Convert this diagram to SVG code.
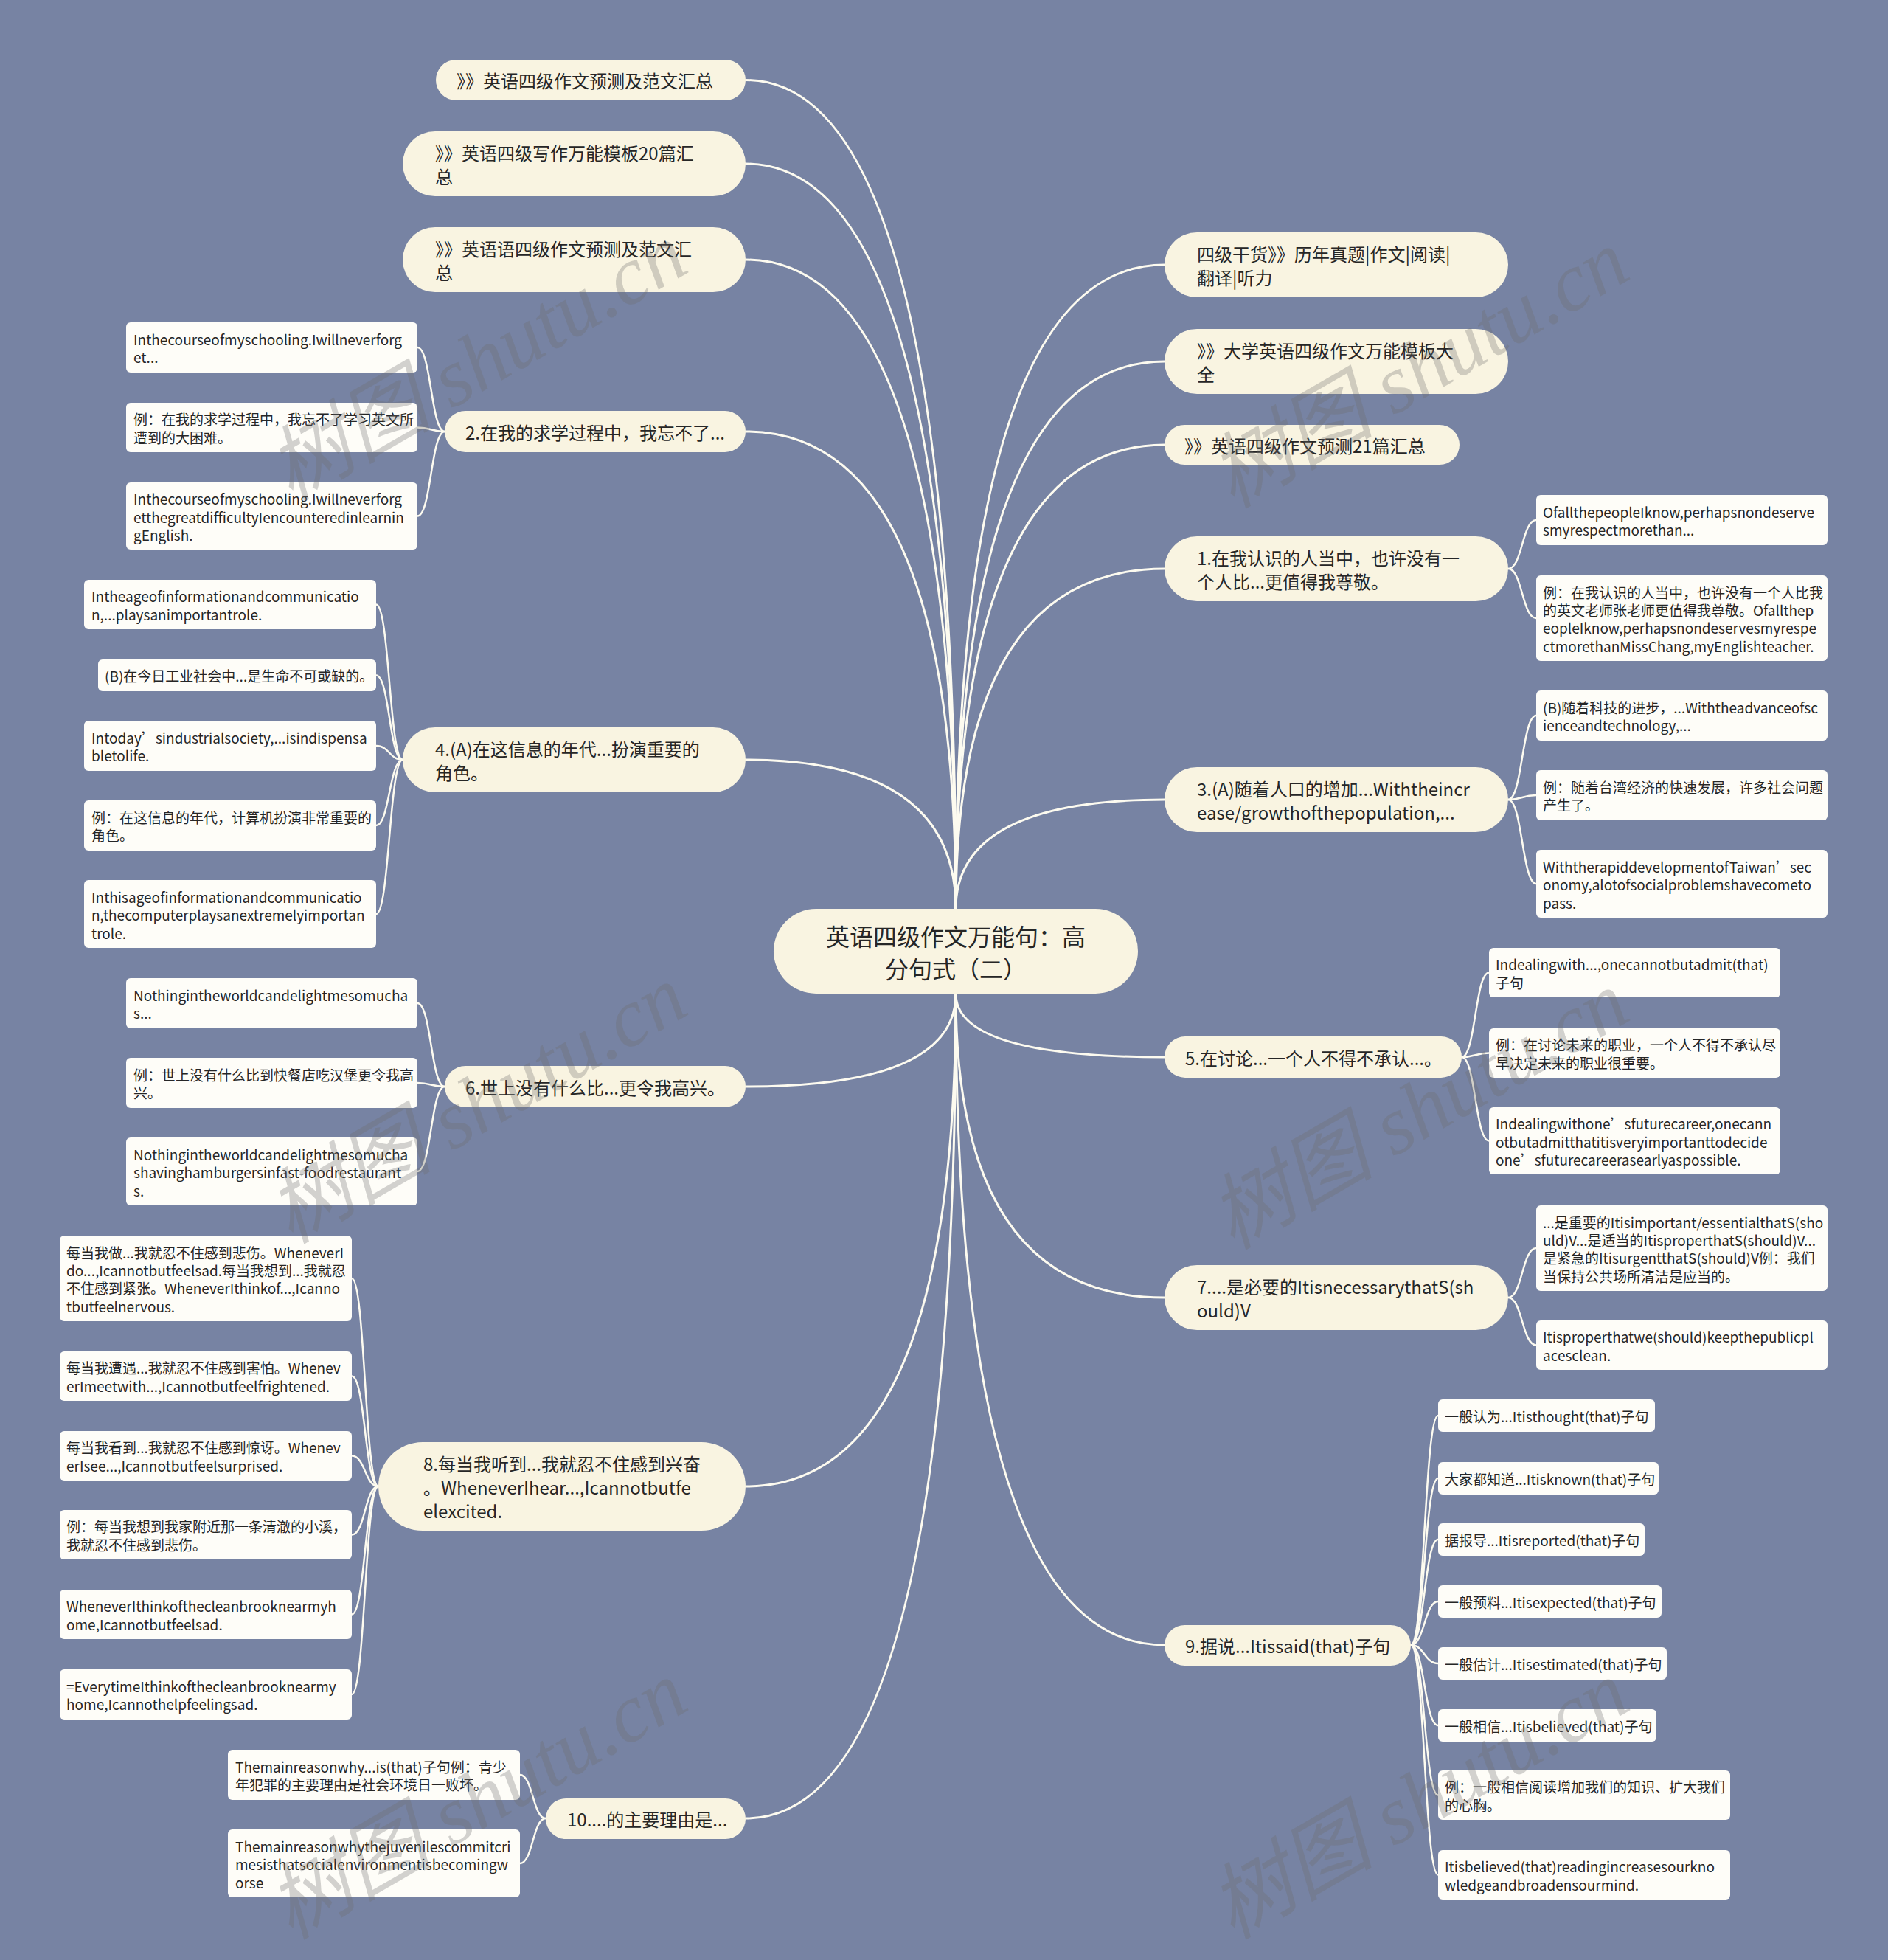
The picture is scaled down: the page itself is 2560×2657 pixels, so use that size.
<svg xmlns="http://www.w3.org/2000/svg" width="2560" height="2657" viewBox="0 0 2560 2657">
<style>
text{font-family:"Noto Sans CJK SC","Microsoft YaHei",sans-serif;fill:#262626;dominant-baseline:central}
.pill{fill:#F9F4E1}
.leaf{fill:#FEFDF8}
.t0{font-size:32px}
.t1{font-size:24px}
.t2{font-size:19px}
.lk{fill:none;stroke:#FDFBF0;stroke-width:3;stroke-linecap:round}
.lk2{fill:none;stroke:#FDFBF0;stroke-width:2.5;stroke-linecap:round}
.wm{font-family:"Liberation Serif","Noto Sans CJK SC",serif;font-style:italic;font-size:112px;fill:#6e6e6e;fill-opacity:0.3;text-anchor:middle}
</style>
<rect x="0" y="0" width="2560" height="2657" fill="#7783A3"/>
<g id="connectors">
<path class="lk" d="M1296,1232 Q1296,108.5 1011,108.5"/>
<path class="lk" d="M1296,1232 Q1296,222 1011,222"/>
<path class="lk" d="M1296,1232 Q1296,352 1011,352"/>
<path class="lk" d="M1296,1232 Q1296,585 1011,585"/>
<path class="lk" d="M1296,1232 Q1296,1030 1011,1030"/>
<path class="lk" d="M1296,1232 Q1296,359 1579,359"/>
<path class="lk" d="M1296,1232 Q1296,490 1579,490"/>
<path class="lk" d="M1296,1232 Q1296,603 1579,603"/>
<path class="lk" d="M1296,1232 Q1296,771 1579,771"/>
<path class="lk" d="M1296,1232 Q1296,1084 1579,1084"/>
<path class="lk" d="M1296,1347 Q1296,1473 1011,1473"/>
<path class="lk" d="M1296,1347 Q1296,2015 1011,2015"/>
<path class="lk" d="M1296,1347 Q1296,2465 1011,2465"/>
<path class="lk" d="M1296,1347 Q1296,1433 1579,1433"/>
<path class="lk" d="M1296,1347 Q1296,1759 1579,1759"/>
<path class="lk" d="M1296,1347 Q1296,2230 1579,2230"/>
<path class="lk2" d="M603,585 C584.5,585 584.5,471 566,471"/>
<path class="lk2" d="M603,585 C584.5,585 584.5,579.5 566,579.5"/>
<path class="lk2" d="M603,585 C584.5,585 584.5,699.5 566,699.5"/>
<path class="lk2" d="M546,1030 C528,1030 528,819.5 510,819.5"/>
<path class="lk2" d="M546,1030 C528,1030 528,915.5 510,915.5"/>
<path class="lk2" d="M546,1030 C528,1030 528,1011 510,1011"/>
<path class="lk2" d="M546,1030 C528,1030 528,1119 510,1119"/>
<path class="lk2" d="M546,1030 C528,1030 528,1239 510,1239"/>
<path class="lk2" d="M603,1473 C584.5,1473 584.5,1360 566,1360"/>
<path class="lk2" d="M603,1473 C584.5,1473 584.5,1468 566,1468"/>
<path class="lk2" d="M603,1473 C584.5,1473 584.5,1588 566,1588"/>
<path class="lk2" d="M513,2015 C495,2015 495,1733 477,1733"/>
<path class="lk2" d="M513,2015 C495,2015 495,1865.5 477,1865.5"/>
<path class="lk2" d="M513,2015 C495,2015 495,1973.5 477,1973.5"/>
<path class="lk2" d="M513,2015 C495,2015 495,2080.5 477,2080.5"/>
<path class="lk2" d="M513,2015 C495,2015 495,2188.5 477,2188.5"/>
<path class="lk2" d="M513,2015 C495,2015 495,2297 477,2297"/>
<path class="lk2" d="M740,2465 C722.5,2465 722.5,2406 705,2406"/>
<path class="lk2" d="M740,2465 C722.5,2465 722.5,2526 705,2526"/>
<path class="lk2" d="M2045,771 C2064,771 2064,705 2083,705"/>
<path class="lk2" d="M2045,771 C2064,771 2064,838 2083,838"/>
<path class="lk2" d="M2045,1084 C2064,1084 2064,970 2083,970"/>
<path class="lk2" d="M2045,1084 C2064,1084 2064,1078 2083,1078"/>
<path class="lk2" d="M2045,1084 C2064,1084 2064,1198 2083,1198"/>
<path class="lk2" d="M1982,1433 C2000.5,1433 2000.5,1318.5 2019,1318.5"/>
<path class="lk2" d="M1982,1433 C2000.5,1433 2000.5,1427.5 2019,1427.5"/>
<path class="lk2" d="M1982,1433 C2000.5,1433 2000.5,1546.5 2019,1546.5"/>
<path class="lk2" d="M2045,1759 C2064,1759 2064,1692 2083,1692"/>
<path class="lk2" d="M2045,1759 C2064,1759 2064,1823.5 2083,1823.5"/>
<path class="lk2" d="M1913,2230 C1931.5,2230 1931.5,1919 1950,1919"/>
<path class="lk2" d="M1913,2230 C1931.5,2230 1931.5,2004 1950,2004"/>
<path class="lk2" d="M1913,2230 C1931.5,2230 1931.5,2087 1950,2087"/>
<path class="lk2" d="M1913,2230 C1931.5,2230 1931.5,2171 1950,2171"/>
<path class="lk2" d="M1913,2230 C1931.5,2230 1931.5,2255 1950,2255"/>
<path class="lk2" d="M1913,2230 C1931.5,2230 1931.5,2339 1950,2339"/>
<path class="lk2" d="M1913,2230 C1931.5,2230 1931.5,2433.5 1950,2433.5"/>
<path class="lk2" d="M1913,2230 C1931.5,2230 1931.5,2541.5 1950,2541.5"/>
</g>
<g id="root"><rect class="pill" x="1049" y="1232" width="494" height="115" rx="57.5"/><text class="t0" text-anchor="middle"><tspan x="1296" y="1268">英语四级作文万能句：高</tspan><tspan x="1296" y="1312">分句式（二）</tspan></text></g>
<g id="a1"><rect class="pill" x="591" y="81" width="420" height="55" rx="27.5"/><text class="t1" x="619" y="108.5">》》英语四级作文预测及范文汇总</text></g>
<g id="a2"><rect class="pill" x="546" y="178" width="465" height="88" rx="44"/><text class="t1"><tspan x="590" y="206">》》英语四级写作万能模板20篇汇</tspan><tspan x="590" y="238">总</tspan></text></g>
<g id="a3"><rect class="pill" x="546" y="308" width="465" height="88" rx="44"/><text class="t1"><tspan x="590" y="336">》》英语语四级作文预测及范文汇</tspan><tspan x="590" y="368">总</tspan></text></g>
<g id="a4"><rect class="pill" x="603" y="557" width="408" height="56" rx="28"/><text class="t1" x="631" y="585">2.在我的求学过程中，我忘不了...</text></g>
<g id="a5"><rect class="pill" x="546" y="986" width="465" height="88" rx="44"/><text class="t1"><tspan x="590" y="1014">4.(A)在这信息的年代...扮演重要的</tspan><tspan x="590" y="1046">角色。</tspan></text></g>
<g id="a6"><rect class="pill" x="603" y="1445" width="408" height="56" rx="28"/><text class="t1" x="631" y="1473">6.世上没有什么比...更令我高兴。</text></g>
<g id="a7"><rect class="pill" x="513" y="1955" width="498" height="120" rx="60"/><text class="t1"><tspan x="574" y="1983">8.每当我听到...我就忍不住感到兴奋</tspan><tspan x="574" y="2015">。WheneverIhear...,Icannotbutfe</tspan><tspan x="574" y="2047">elexcited.</tspan></text></g>
<g id="a8"><rect class="pill" x="740" y="2438" width="271" height="55" rx="27.5"/><text class="t1" x="769" y="2465.5">10....的主要理由是...</text></g>
<g id="b1"><rect class="pill" x="1579" y="315" width="466" height="88" rx="44"/><text class="t1"><tspan x="1623" y="343">四级干货》》历年真题|作文|阅读|</tspan><tspan x="1623" y="375">翻译|听力</tspan></text></g>
<g id="b2"><rect class="pill" x="1579" y="446" width="466" height="88" rx="44"/><text class="t1"><tspan x="1623" y="474">》》大学英语四级作文万能模板大</tspan><tspan x="1623" y="506">全</tspan></text></g>
<g id="b3"><rect class="pill" x="1579" y="576" width="400" height="54" rx="27"/><text class="t1" x="1606" y="603">》》英语四级作文预测21篇汇总</text></g>
<g id="b4"><rect class="pill" x="1579" y="727" width="466" height="88" rx="44"/><text class="t1"><tspan x="1623" y="755">1.在我认识的人当中，也许没有一</tspan><tspan x="1623" y="787">个人比...更值得我尊敬。</tspan></text></g>
<g id="b5"><rect class="pill" x="1579" y="1040" width="466" height="88" rx="44"/><text class="t1"><tspan x="1623" y="1068">3.(A)随着人口的增加...Withtheincr</tspan><tspan x="1623" y="1100">ease/growthofthepopulation,...</tspan></text></g>
<g id="b6"><rect class="pill" x="1579" y="1405" width="403" height="56" rx="28"/><text class="t1" x="1607" y="1433">5.在讨论...一个人不得不承认...。</text></g>
<g id="b7"><rect class="pill" x="1579" y="1715" width="466" height="88" rx="44"/><text class="t1"><tspan x="1623" y="1743">7....是必要的ItisnecessarythatS(sh</tspan><tspan x="1623" y="1775">ould)V</tspan></text></g>
<g id="b8"><rect class="pill" x="1579" y="2203" width="334" height="55" rx="27.5"/><text class="t1" x="1607" y="2230.5">9.据说...Itissaid(that)子句</text></g>
<g id="l4a"><rect class="leaf" x="171" y="437" width="395" height="68" rx="6"/><text class="t2"><tspan x="181" y="459">Inthecourseofmyschooling.Iwillneverforg</tspan><tspan x="181" y="483">et...</tspan></text></g>
<g id="l4b"><rect class="leaf" x="171" y="546" width="395" height="67" rx="6"/><text class="t2"><tspan x="181" y="567">例：在我的求学过程中，我忘不了学习英文所</tspan><tspan x="181" y="592">遭到的大困难。</tspan></text></g>
<g id="l4c"><rect class="leaf" x="171" y="654" width="395" height="91" rx="6"/><text class="t2"><tspan x="181" y="675">Inthecourseofmyschooling.Iwillneverforg</tspan><tspan x="181" y="699.5">etthegreatdifficultyIencounteredinlearnin</tspan><tspan x="181" y="724">gEnglish.</tspan></text></g>
<g id="l5a"><rect class="leaf" x="114" y="786" width="396" height="67" rx="6"/><text class="t2"><tspan x="124" y="807">Intheageofinformationandcommunicatio</tspan><tspan x="124" y="832">n,...playsanimportantrole.</tspan></text></g>
<g id="l5b"><rect class="leaf" x="133" y="894" width="377" height="43" rx="6"/><text class="t2" x="142" y="915.5">(B)在今日工业社会中...是生命不可或缺的。</text></g>
<g id="l5c"><rect class="leaf" x="114" y="977" width="396" height="68" rx="6"/><text class="t2"><tspan x="124" y="999">Intoday’sindustrialsociety,...isindispensa</tspan><tspan x="124" y="1023">bletolife.</tspan></text></g>
<g id="l5d"><rect class="leaf" x="114" y="1085" width="396" height="68" rx="6"/><text class="t2"><tspan x="124" y="1107">例：在这信息的年代，计算机扮演非常重要的</tspan><tspan x="124" y="1131">角色。</tspan></text></g>
<g id="l5e"><rect class="leaf" x="114" y="1193" width="396" height="92" rx="6"/><text class="t2"><tspan x="124" y="1214.5">Inthisageofinformationandcommunicatio</tspan><tspan x="124" y="1239">n,thecomputerplaysanextremelyimportan</tspan><tspan x="124" y="1263.5">trole.</tspan></text></g>
<g id="l6a"><rect class="leaf" x="171" y="1326" width="395" height="68" rx="6"/><text class="t2"><tspan x="181" y="1348">Nothingintheworldcandelightmesomucha</tspan><tspan x="181" y="1372">s...</tspan></text></g>
<g id="l6b"><rect class="leaf" x="171" y="1434" width="395" height="68" rx="6"/><text class="t2"><tspan x="181" y="1456">例：世上没有什么比到快餐店吃汉堡更令我高</tspan><tspan x="181" y="1480">兴。</tspan></text></g>
<g id="l6c"><rect class="leaf" x="171" y="1542" width="395" height="92" rx="6"/><text class="t2"><tspan x="181" y="1563.5">Nothingintheworldcandelightmesomucha</tspan><tspan x="181" y="1588">shavinghamburgersinfast-foodrestaurant</tspan><tspan x="181" y="1612.5">s.</tspan></text></g>
<g id="l7a"><rect class="leaf" x="81" y="1675" width="396" height="116" rx="6"/><text class="t2"><tspan x="90" y="1696.5">每当我做...我就忍不住感到悲伤。WheneverI</tspan><tspan x="90" y="1721">do...,Icannotbutfeelsad.每当我想到...我就忍</tspan><tspan x="90" y="1745">不住感到紧张。WheneverIthinkof...,Icanno</tspan><tspan x="90" y="1769.5">tbutfeelnervous.</tspan></text></g>
<g id="l7b"><rect class="leaf" x="81" y="1832" width="396" height="67" rx="6"/><text class="t2"><tspan x="90" y="1853">每当我遭遇...我就忍不住感到害怕。Whenev</tspan><tspan x="90" y="1878">erImeetwith...,Icannotbutfeelfrightened.</tspan></text></g>
<g id="l7c"><rect class="leaf" x="81" y="1940" width="396" height="67" rx="6"/><text class="t2"><tspan x="90" y="1961">每当我看到...我就忍不住感到惊讶。Whenev</tspan><tspan x="90" y="1986">erIsee...,Icannotbutfeelsurprised.</tspan></text></g>
<g id="l7d"><rect class="leaf" x="81" y="2047" width="396" height="67" rx="6"/><text class="t2"><tspan x="90" y="2068">例：每当我想到我家附近那一条清澈的小溪，</tspan><tspan x="90" y="2093">我就忍不住感到悲伤。</tspan></text></g>
<g id="l7e"><rect class="leaf" x="81" y="2155" width="396" height="67" rx="6"/><text class="t2"><tspan x="90" y="2176">WheneverIthinkofthecleanbrooknearmyh</tspan><tspan x="90" y="2201">ome,Icannotbutfeelsad.</tspan></text></g>
<g id="l7f"><rect class="leaf" x="81" y="2263" width="396" height="68" rx="6"/><text class="t2"><tspan x="90" y="2285">=EverytimeIthinkofthecleanbrooknearmy</tspan><tspan x="90" y="2309">home,Icannothelpfeelingsad.</tspan></text></g>
<g id="l8a"><rect class="leaf" x="309" y="2372" width="396" height="68" rx="6"/><text class="t2"><tspan x="319" y="2394">Themainreasonwhy...is(that)子句例：青少</tspan><tspan x="319" y="2418">年犯罪的主要理由是社会环境日一败坏。</tspan></text></g>
<g id="l8b"><rect class="leaf" x="309" y="2480" width="396" height="92" rx="6"/><text class="t2"><tspan x="319" y="2501.5">Themainreasonwhythejuvenilescommitcri</tspan><tspan x="319" y="2526">mesisthatsocialenvironmentisbecomingw</tspan><tspan x="319" y="2550.5">orse</tspan></text></g>
<g id="r4a"><rect class="leaf" x="2083" y="671" width="395" height="68" rx="6"/><text class="t2"><tspan x="2092" y="693">OfallthepeopleIknow,perhapsnondeserve</tspan><tspan x="2092" y="717">smyrespectmorethan...</tspan></text></g>
<g id="r4b"><rect class="leaf" x="2083" y="780" width="395" height="116" rx="6"/><text class="t2"><tspan x="2092" y="801.5">例：在我认识的人当中，也许没有一个人比我</tspan><tspan x="2092" y="826">的英文老师张老师更值得我尊敬。Ofallthep</tspan><tspan x="2092" y="850">eopleIknow,perhapsnondeservesmyrespe</tspan><tspan x="2092" y="874.5">ctmorethanMissChang,myEnglishteacher.</tspan></text></g>
<g id="r5a"><rect class="leaf" x="2083" y="936" width="395" height="68" rx="6"/><text class="t2"><tspan x="2092" y="958">(B)随着科技的进步，...Withtheadvanceofsc</tspan><tspan x="2092" y="982">ienceandtechnology,...</tspan></text></g>
<g id="r5b"><rect class="leaf" x="2083" y="1044" width="395" height="68" rx="6"/><text class="t2"><tspan x="2092" y="1066">例：随着台湾经济的快速发展，许多社会问题</tspan><tspan x="2092" y="1090">产生了。</tspan></text></g>
<g id="r5c"><rect class="leaf" x="2083" y="1152" width="395" height="92" rx="6"/><text class="t2"><tspan x="2092" y="1173.5">WiththerapiddevelopmentofTaiwan’sec</tspan><tspan x="2092" y="1198">onomy,alotofsocialproblemshavecometo</tspan><tspan x="2092" y="1222.5">pass.</tspan></text></g>
<g id="r6a"><rect class="leaf" x="2019" y="1285" width="395" height="67" rx="6"/><text class="t2"><tspan x="2028" y="1306">Indealingwith...,onecannotbutadmit(that)</tspan><tspan x="2028" y="1331">子句</tspan></text></g>
<g id="r6b"><rect class="leaf" x="2019" y="1394" width="395" height="67" rx="6"/><text class="t2"><tspan x="2028" y="1415">例：在讨论未来的职业，一个人不得不承认尽</tspan><tspan x="2028" y="1440">早决定未来的职业很重要。</tspan></text></g>
<g id="r6c"><rect class="leaf" x="2019" y="1501" width="395" height="91" rx="6"/><text class="t2"><tspan x="2028" y="1522">Indealingwithone’sfuturecareer,onecann</tspan><tspan x="2028" y="1546.5">otbutadmitthatitisveryimportanttodecide</tspan><tspan x="2028" y="1571">one’sfuturecareerasearlyaspossible.</tspan></text></g>
<g id="r7a"><rect class="leaf" x="2083" y="1634" width="395" height="116" rx="6"/><text class="t2"><tspan x="2092" y="1655.5">...是重要的Itisimportant/essentialthatS(sho</tspan><tspan x="2092" y="1680">uld)V...是适当的ItisproperthatS(should)V...</tspan><tspan x="2092" y="1704">是紧急的ItisurgentthatS(should)V例：我们</tspan><tspan x="2092" y="1728.5">当保持公共场所清洁是应当的。</tspan></text></g>
<g id="r7b"><rect class="leaf" x="2083" y="1790" width="395" height="67" rx="6"/><text class="t2"><tspan x="2092" y="1811">Itisproperthatwe(should)keepthepublicpl</tspan><tspan x="2092" y="1836">acesclean.</tspan></text></g>
<g id="r8a"><rect class="leaf" x="1950" y="1897" width="294" height="44" rx="6"/><text class="t2" x="1959" y="1919">一般认为...Itisthought(that)子句</text></g>
<g id="r8b"><rect class="leaf" x="1950" y="1982" width="299" height="44" rx="6"/><text class="t2" x="1959" y="2004">大家都知道...Itisknown(that)子句</text></g>
<g id="r8c"><rect class="leaf" x="1950" y="2065" width="280" height="44" rx="6"/><text class="t2" x="1959" y="2087">据报导...Itisreported(that)子句</text></g>
<g id="r8d"><rect class="leaf" x="1950" y="2149" width="303" height="44" rx="6"/><text class="t2" x="1959" y="2171">一般预料...Itisexpected(that)子句</text></g>
<g id="r8e"><rect class="leaf" x="1950" y="2233" width="310" height="44" rx="6"/><text class="t2" x="1959" y="2255">一般估计...Itisestimated(that)子句</text></g>
<g id="r8f"><rect class="leaf" x="1950" y="2317" width="296" height="44" rx="6"/><text class="t2" x="1959" y="2339">一般相信...Itisbelieved(that)子句</text></g>
<g id="r8g"><rect class="leaf" x="1950" y="2400" width="396" height="67" rx="6"/><text class="t2"><tspan x="1959" y="2421">例：一般相信阅读增加我们的知识、扩大我们</tspan><tspan x="1959" y="2446">的心胸。</tspan></text></g>
<g id="r8h"><rect class="leaf" x="1950" y="2508" width="396" height="67" rx="6"/><text class="t2"><tspan x="1959" y="2529">Itisbelieved(that)readingincreasesourkno</tspan><tspan x="1959" y="2554">wledgeandbroadensourmind.</tspan></text></g>
<g id="watermarks">
<text class="wm" transform="translate(647,491) rotate(-30)">树图 shutu.cn</text>
<text class="wm" transform="translate(1924,500) rotate(-30)">树图 shutu.cn</text>
<text class="wm" transform="translate(647,1497) rotate(-30)">树图 shutu.cn</text>
<text class="wm" transform="translate(1924,1505) rotate(-30)">树图 shutu.cn</text>
<text class="wm" transform="translate(647,2440) rotate(-30)">树图 shutu.cn</text>
<text class="wm" transform="translate(1924,2440) rotate(-30)">树图 shutu.cn</text>
</g>
</svg>
